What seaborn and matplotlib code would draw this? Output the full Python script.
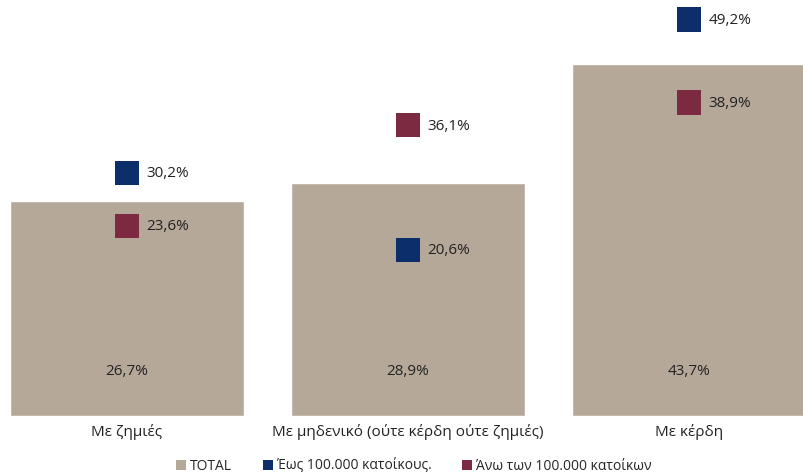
import numpy as np
import pandas as pd
import matplotlib.pyplot as plt
import seaborn as sns
from matplotlib.patches import Patch

sns.set_style('white')
plt.rcParams['font.family'] = ['Open Sans', 'DejaVu Sans']

categories = ['Με ζημιές', 'Με μηδενικό (ούτε κέρδη ούτε ζημιές)', 'Με κέρδη']
total = [26.7, 28.9, 43.7]
upto_100k = [30.2, 20.6, 49.2]
over_100k = [23.6, 36.1, 38.9]
series_names = ['TOTAL', 'Έως 100.000 κατοίκους.', 'Άνω των 100.000 κατοίκων']
colors = ['#b5a899', '#0c2f6b', '#7b2a41']

def fmt(v):
    return f'{v:.1f}%'.replace('.', ',')

df = pd.DataFrame({'cat': categories, 'total': total,
                   'upto': upto_100k, 'over': over_100k})

fig = plt.figure(figsize=(8.04, 4.76), dpi=100)
ax = fig.add_axes([0, 1 - 416 / 476, 1, 411 / 476])

sns.barplot(data=df, x='cat', y='total', color=colors[0], width=0.833,
            saturation=1, ax=ax)

x = np.arange(len(categories))
for col, c in [('upto', colors[1]), ('over', colors[2])]:
    sns.scatterplot(x=x, y=df[col], marker='s', s=310, color=c,
                    edgecolor='none', ax=ax, legend=False)
    for xi, v in zip(x, df[col]):
        ax.text(xi + 0.07, v - 0.1, fmt(v), va='center', ha='left',
                fontsize=11, color='#222222')

for xi, v in zip(x, total):
    ax.text(xi, 5.5, fmt(v), va='center', ha='center', fontsize=11, color='#222222')

ax.set_xlim(-127 / 281, 677 / 281)
ax.set_ylim(0, 411 / 8.055)
ax.set_xlabel('')
ax.set_ylabel('')
ax.set_yticks([])
ax.tick_params(axis='x', length=0, labelsize=11, pad=6, colors='#222222')
sns.despine(ax=ax, left=True, bottom=True, top=True, right=True)

handles = [Patch(facecolor=c, edgecolor='none') for c in colors]
fig.legend(handles, series_names, loc='center', bbox_to_anchor=(0.515, 1 - 466 / 476),
           ncol=3, frameon=False, fontsize=10, handlelength=0.7, handleheight=0.7,
           handletextpad=0.3, columnspacing=2.2)

fig.savefig('out.png', dpi=100)
